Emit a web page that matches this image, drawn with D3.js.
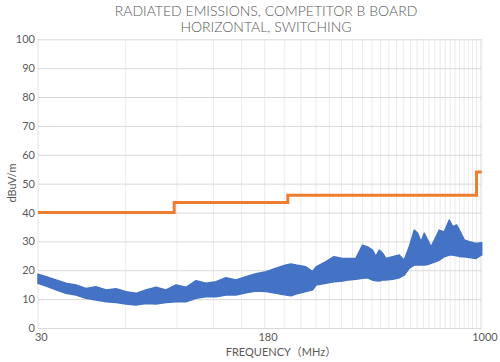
<!DOCTYPE html>
<html>
<head>
<meta charset="utf-8">
<script src="https://cdn.jsdelivr.net/npm/d3@7"></script>
<style>
  html, body { margin: 0; padding: 0; background: #fff; }
  svg { display: block; }
  text { font-family: Lato, "Noto Sans", "Noto Sans CJK SC", sans-serif; fill: #595959; }
</style>
</head>
<body>
<svg id="chart" width="500" height="362"></svg>
<script>
// ---- data ----
const titleLines = ["RADIATED EMISSIONS, COMPETITOR B BOARD", "HORIZONTAL, SWITCHING"];
const xTickValues = [30, 180, 1000];
const yTickValues = [0, 10, 20, 30, 40, 50, 60, 70, 80, 90, 100];
const minorGridFreqs = d3.range(60, 1000, 30);

// measured emission trace: envelope (upper / lower) in dBuV/m vs frequency (MHz)
const freqs = [30, 32, 34.6, 37.4, 40.5, 43.8, 47.4, 51.4, 55.6, 60.1, 65.1, 70.4, 76.2, 82.5, 89.3, 96.6, 104.6, 113.2, 122.5, 132.5, 143.4, 155.2, 168, 182, 197, 213, 221.5, 230.5, 249, 263, 270, 292, 311, 333, 347, 370, 390, 406, 422, 433, 445, 457, 469, 495, 521, 542, 564, 587, 603, 619, 635, 652, 670, 697, 715, 744, 774, 795, 820, 849, 871, 906, 956, 1000];
const upper = [18.6, 17.8, 16.6, 15.5, 14.9, 13.7, 14.3, 13.2, 13.6, 12.6, 12.0, 13.2, 14.1, 13.2, 14.9, 14.1, 16.4, 15.5, 16.0, 17.4, 16.6, 17.8, 18.8, 19.5, 20.7, 21.8, 22.2, 21.8, 21.2, 19.5, 21.2, 23.0, 24.7, 24.1, 24.1, 24.1, 28.7, 28.1, 27.0, 24.7, 27.0, 25.9, 24.1, 24.7, 25.3, 23.5, 28.1, 33.9, 32.8, 29.9, 32.8, 30.5, 28.1, 31.6, 33.9, 33.3, 37.4, 35.1, 35.7, 32.8, 30.5, 29.9, 29.3, 29.5];
const lower = [15.5, 14.5, 13.2, 12.0, 11.4, 10.3, 9.7, 9.1, 8.8, 8.3, 8.0, 8.5, 8.3, 8.8, 9.1, 9.1, 10.3, 10.8, 10.8, 11.4, 11.4, 12.2, 12.8, 12.6, 12.0, 11.4, 11.2, 11.8, 12.6, 13.2, 14.9, 15.5, 16.0, 16.3, 16.6, 16.9, 17.2, 17.4, 16.6, 16.4, 16.3, 16.6, 16.6, 16.9, 17.4, 18.3, 20.7, 21.8, 21.8, 21.8, 21.8, 22.0, 22.4, 23.0, 23.5, 24.7, 25.3, 25.3, 25.0, 24.7, 24.7, 24.4, 24.1, 25.3];

// FCC class B limit (step starts and levels)
const limitFreqs = [30, 88, 216, 960, 1000];
const limitLevels = [40, 43.5, 46, 54, 54];

// ---- layout ----
const svg = d3.select("#chart");
const mLeft = 38, mRight = 481.7, mTop = 39.3, mBottom = 328;

const x = d3.scaleLog().domain([30, 1000]).range([mLeft, mRight]);
const y = d3.scaleLinear().domain([0, 100]).range([mBottom, mTop]);

// vertical minor gridlines
svg.append("g").selectAll("line")
  .data(minorGridFreqs.concat([1000]))
  .join("line")
  .attr("x1", d => x(d)).attr("x2", d => x(d))
  .attr("y1", mTop).attr("y2", mBottom)
  .attr("stroke", "#ebebeb").attr("stroke-width", 1);

// left border
svg.append("line")
  .attr("x1", mLeft).attr("x2", mLeft).attr("y1", mTop).attr("y2", mBottom)
  .attr("stroke", "#e3e3e3").attr("stroke-width", 1);

// horizontal gridlines + y labels
const yAxis = d3.axisLeft(y).tickValues(yTickValues).tickSize(-(mRight - mLeft)).tickPadding(3);
const gy = svg.append("g").attr("transform", `translate(${mLeft},0)`).call(yAxis);
gy.select(".domain").remove();
gy.selectAll(".tick line").attr("stroke", "#d9d9d9").attr("stroke-width", 1);
gy.selectAll(".tick text").attr("font-size", 11).attr("x", -3);

// x labels
const xAxis = d3.axisBottom(x).tickValues(xTickValues).tickFormat(d3.format("d")).tickSize(0).tickPadding(5);
const gx = svg.append("g").attr("transform", `translate(2.8,${mBottom})`).call(xAxis);
gx.select(".domain").remove();
gx.selectAll(".tick text").attr("font-size", 11);

// emission band
const area = d3.area()
  .x((d, i) => x(freqs[i]))
  .y0((d, i) => y(lower[i]))
  .y1((d, i) => y(upper[i]));
svg.append("path")
  .datum(freqs)
  .attr("d", area)
  .attr("fill", "#4472C4")
  .attr("stroke", "#4472C4")
  .attr("stroke-width", 1.5)
  .attr("stroke-linejoin", "round");

// limit line
const limitLine = d3.line()
  .x((d, i) => x(limitFreqs[i]))
  .y((d, i) => y(limitLevels[i]))
  .curve(d3.curveStepAfter);
svg.append("path")
  .datum(limitFreqs)
  .attr("d", limitLine)
  .attr("fill", "none")
  .attr("stroke", "#ED7D31")
  .attr("stroke-width", 3);

// titles
svg.selectAll(".title")
  .data(titleLines)
  .join("text")
  .attr("class", "title")
  .attr("x", 266)
  .attr("y", (d, i) => 16 + i * 15.5)
  .attr("text-anchor", "middle")
  .attr("font-size", 14)
  .attr("font-weight", 300)
  .text(d => d);

// axis titles
svg.append("text")
  .attr("x", 281).attr("y", 356)
  .attr("text-anchor", "middle")
  .attr("font-size", 11)
  .text("FREQUENCY（MHz）");

svg.append("text")
  .attr("transform", `translate(16,183) rotate(-90)`)
  .attr("text-anchor", "middle")
  .attr("font-size", 11)
  .text("dBuV/m");
</script>
</body>
</html>
